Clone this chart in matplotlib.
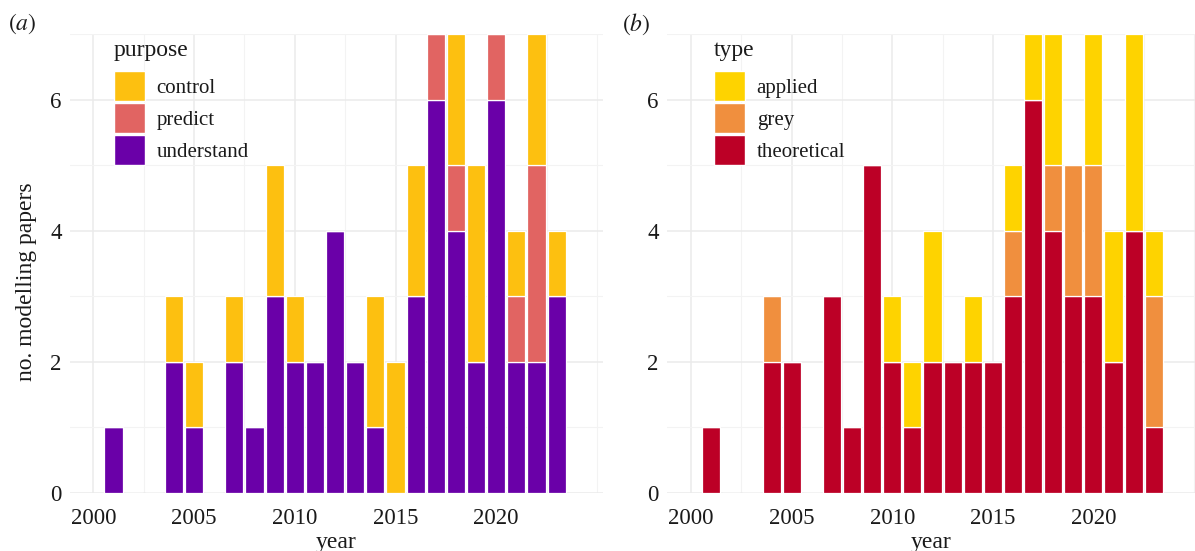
import matplotlib
matplotlib.use("Agg")
import matplotlib.pyplot as plt
import numpy as np
from matplotlib.patches import Patch
from matplotlib.ticker import FixedLocator

plt.rcParams["font.family"] = ["Liberation Serif", "DejaVu Serif"]
plt.rcParams["mathtext.fontset"] = "stix"

years = np.arange(2001, 2024)

# purpose of each modelling paper, per year
understand = [1, 0, 0, 2, 1, 0, 2, 1, 3, 2, 2, 4, 2, 1, 0, 3, 6, 4, 2, 6, 2, 2, 3]
predict    = [0, 0, 0, 0, 0, 0, 0, 0, 0, 0, 0, 0, 0, 0, 0, 0, 1, 1, 0, 1, 1, 3, 0]
control    = [0, 0, 0, 1, 1, 0, 1, 0, 2, 1, 0, 0, 0, 2, 2, 2, 0, 2, 3, 0, 1, 2, 1]

# type of each modelling paper, per year
theoretical = [1, 0, 0, 2, 2, 0, 3, 1, 5, 2, 1, 2, 2, 2, 2, 3, 6, 4, 3, 3, 2, 4, 1]
grey        = [0, 0, 0, 1, 0, 0, 0, 0, 0, 0, 0, 0, 0, 0, 0, 1, 0, 1, 2, 2, 0, 0, 2]
applied     = [0, 0, 0, 0, 0, 0, 0, 0, 0, 1, 1, 2, 0, 1, 0, 1, 1, 2, 0, 2, 2, 3, 1]

year_ticks = [2000, 2005, 2010, 2015, 2020]
count_ticks = [0, 2, 4, 6]

purpose_series = [("understand", understand, "#6A00A8"),
                  ("predict", predict, "#E16462"),
                  ("control", control, "#FDC010")]
type_series = [("theoretical", theoretical, "#BC0026"),
               ("grey", grey, "#F08F3E"),
               ("applied", applied, "#FED300")]

TXT = "#1a1a1a"
fig = plt.figure(figsize=(11.95, 5.51), dpi=100)
W, H = 1195, 551
ax_a = fig.add_axes([70 / W, 58 / H, (603 - 70) / W, 459 / H])
ax_b = fig.add_axes([667 / W, 58 / H, (1195 - 667) / W, 459 / H])


def draw_panel(ax, series, title, xlim, leg_x):
    bottom = np.zeros(len(years))
    for name, vals, col in series:
        vals = np.array(vals, dtype=float)
        ax.bar(years, vals, bottom=bottom, width=0.9, color=col,
               edgecolor="white", linewidth=0.9, label=name, zorder=2)
        bottom += vals
    ax.set_xlim(*xlim)
    ax.set_ylim(0, 7)
    ax.xaxis.set_major_locator(FixedLocator(year_ticks))
    ax.xaxis.set_minor_locator(FixedLocator([2002.5, 2007.5, 2012.5, 2017.5,
                                             2022.5, 2025]))
    ax.yaxis.set_major_locator(FixedLocator(count_ticks))
    ax.yaxis.set_minor_locator(FixedLocator([1, 3, 5, 7]))
    ax.grid(which="major", color="#ebebeb", linewidth=1.1, zorder=0)
    ax.grid(which="minor", color="#f3f3f3", linewidth=0.8, zorder=0)
    ax.set_axisbelow(True)
    for s in ax.spines.values():
        s.set_visible(False)
    ax.tick_params(which="both", length=0)
    ax.tick_params(axis="both", labelsize=16.5, labelcolor=TXT)
    ax.tick_params(axis="y", pad=6)
    ax.tick_params(axis="x", pad=11)
    ax.set_xlabel("year", fontsize=17, color=TXT, labelpad=2)
    handles = [Patch(facecolor=col, edgecolor="white", linewidth=1, label=name)
               for name, _, col in reversed(series)]
    leg = ax.legend(handles=handles, loc="upper left",
                    bbox_to_anchor=(leg_x, 0.9194), frameon=False,
                    fontsize=15, handlelength=1.5, handleheight=1.84,
                    labelspacing=0.1, handletextpad=0.55, borderpad=0,
                    borderaxespad=0)
    for t in leg.get_texts():
        t.set_color(TXT)
    ax.text(leg_x, 0.963, title, transform=ax.transAxes, fontsize=17,
            color=TXT, ha="left", va="center")


draw_panel(ax_a, purpose_series, "purpose", (1998.84, 2025.3), 0.0826)
draw_panel(ax_b, type_series, "type", (1998.8, 2025.05), 0.089)
ax_a.set_ylabel("no. modelling papers", fontsize=17, color=TXT)
ax_a.yaxis.set_label_coords(-0.062, 0.46)

fig.text(8 / W, 1 - 24 / H, r"$(a)$", fontsize=17, color=TXT, va="center", ha="left")
fig.text(622 / W, 1 - 24 / H, r"$(b)$", fontsize=17, color=TXT, va="center", ha="left")

fig.savefig("out.png", dpi=100, facecolor="white")
